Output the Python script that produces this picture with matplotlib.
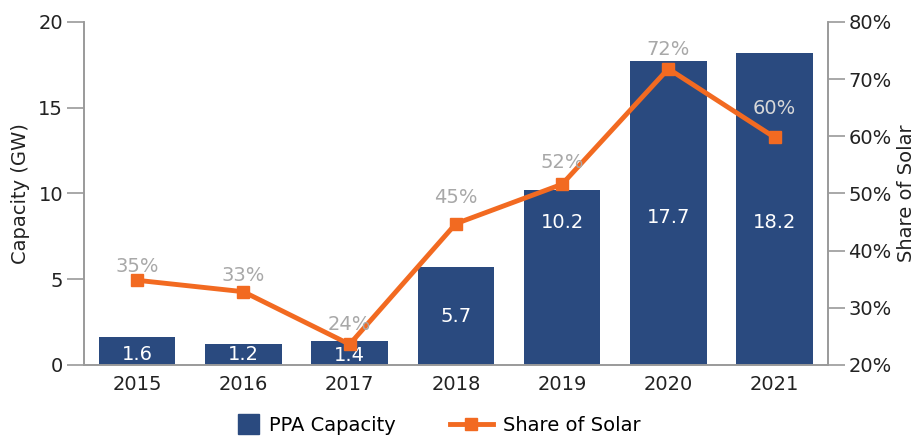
import matplotlib
matplotlib.use("Agg")
import matplotlib.pyplot as plt
from matplotlib.lines import Line2D
from matplotlib.patches import Patch, Rectangle
from matplotlib.legend_handler import HandlerPatch

plt.rcParams['font.family'] = ['DejaVu Sans']

years = ['2015', '2016', '2017', '2018', '2019', '2020', '2021']
capacity = [1.6, 1.2, 1.4, 5.7, 10.2, 17.7, 18.2]
solar_share = [34.8, 32.8, 23.6, 44.7, 51.6, 71.8, 59.8]
share_labels = ['35%', '33%', '24%', '45%', '52%', '72%', '60%']

navy = '#2a4a7f'
orange = '#f26a21'
grid_grey = '#9a9a9a'
text_col = '#222222'
fs = 14


def square_right(legend, orig_handle, xdescent, ydescent, width, height, fontsize):
    # small square sitting at the right end of the handle box
    side = 15
    return Rectangle((width - side - xdescent, (height - side) / 2 - ydescent), side, side)


fig = plt.figure(figsize=(9.17, 4.37), dpi=100)
ax = fig.add_axes([0.0916, 0.165, 0.811, 0.785])
ax2 = ax.twinx()

x = list(range(len(years)))
ax.bar(x, capacity, width=0.72, color=navy, zorder=2)

# where the bar values sit (GW), as in the original
label_y = [0.58, 0.6, 0.55, 2.85, 8.3, 8.6, 8.3]
for i, v in enumerate(capacity):
    ax.text(i, label_y[i], f'{v:.1f}', ha='center', va='center',
            color='white', fontsize=fs)

ax.set_xlim(-0.5, len(years) - 0.5)
ax.set_ylim(0, 20)
ax.set_yticks([0, 5, 10, 15, 20])
ax.set_xticks(x)
ax.set_xticklabels(years)
ax.set_ylabel('Capacity (GW)', fontsize=fs, color=text_col, labelpad=6)

ax2.plot(x, solar_share, color=orange, lw=3.5, marker='s', ms=9, zorder=3)
ax2.set_ylim(20, 80)
ax2.set_yticks([20, 30, 40, 50, 60, 70, 80])
ax2.set_yticklabels([f'{t}%' for t in range(20, 90, 10)])
ax2.set_ylabel('Share of Solar', fontsize=fs, color=text_col, labelpad=4)

# label offsets above the markers (points) and colours
lab_off = [10, 12, 14, 19, 16, 14, 21]
lab_col = ['#a8a8a8'] * 6 + ['#d8d8d8']
for i, (v, lab) in enumerate(zip(solar_share, share_labels)):
    ax2.annotate(lab, (i, v), xytext=(0, lab_off[i]), textcoords='offset points',
                 ha='center', va='center', color=lab_col[i], fontsize=fs)

for a in (ax, ax2):
    a.spines['top'].set_visible(False)
    for s in ('left', 'right', 'bottom'):
        a.spines[s].set_color(grid_grey)
        a.spines[s].set_linewidth(1.2)
    a.tick_params(axis='y', length=12, width=1.2, color=grid_grey,
                  labelsize=fs, labelcolor=text_col, pad=3)
ax.tick_params(axis='x', length=0, labelsize=fs, labelcolor=text_col, pad=7)
ax.patch.set_visible(False)
ax2.patch.set_visible(False)
ax.set_zorder(1)
ax2.set_zorder(2)

ppa = Patch(color=navy, label='PPA Capacity')
share = Line2D([0], [0], color=orange, lw=3.5, marker='s', ms=9,
               label='Share of Solar')
fig.legend(handles=[ppa, share], loc='lower center', bbox_to_anchor=(0.467, -0.035),
           ncol=2, frameon=False, fontsize=fs, handlelength=2.2,
           columnspacing=2.8, handletextpad=0.5,
           handler_map={Patch: HandlerPatch(patch_func=square_right)})

fig.savefig('out.png', dpi=100)
